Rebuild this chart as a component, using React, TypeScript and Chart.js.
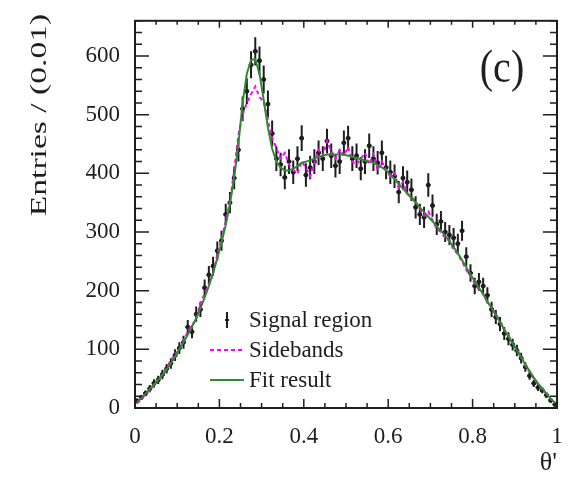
import React, { useEffect, useRef } from "react";
import { Chart, registerables } from "chart.js";
Chart.register(...registerables);

const BIN_WIDTH = 0.01;
const N_BINS = 100;
const THETA = Array.from({ length: N_BINS }, (_, i) => +((i + 0.5) * BIN_WIDTH).toFixed(3));

const SIGNAL = [
  12, 18, 25, 33, 42, 48, 57, 67, 76, 90,
  102, 112, 138, 130, 160, 168, 205, 227, 242, 268,
  285, 330, 350, 392, 440, 510, 540, 585, 608, 592,
  560, 518, 468, 425, 415, 393, 420, 402, 425, 460,
  397, 410, 420, 435, 425, 455, 430, 413, 420, 452,
  460, 425, 430, 408, 420, 447, 425, 418, 435, 410,
  402, 395, 368, 392, 385, 372, 342, 330, 325, 380,
  345, 313, 318, 300, 295, 290, 280, 302, 258, 230,
  208, 215, 208, 192, 168, 155, 143, 127, 118, 108,
  98, 85, 70, 55, 42, 35, 30, 22, 13, 6,
];

const SIGNAL_ERR = [
  4, 4, 5, 6, 7, 7, 8, 8, 9, 10,
  10, 11, 12, 11, 13, 13, 14, 15, 16, 16,
  17, 18, 18, 19, 20, 21, 22, 23, 24, 24,
  24, 23, 22, 21, 20, 20, 21, 20, 21, 22,
  20, 20, 21, 21, 21, 21, 21, 20, 21, 21,
  21, 21, 21, 20, 21, 21, 21, 20, 21, 20,
  20, 20, 19, 20, 20, 19, 19, 18, 18, 20,
  19, 18, 18, 17, 17, 17, 17, 17, 16, 15,
  14, 15, 14, 14, 13, 12, 12, 11, 11, 10,
  10, 9, 8, 7, 6, 6, 5, 5, 4, 3,
];

const SIDEBANDS = [
  8, 15, 24, 30, 40, 50, 56, 68, 80, 92,
  98, 115, 130, 142, 150, 178, 195, 210, 228, 262,
  288, 318, 352, 405, 465, 500, 520, 535, 548, 530,
  522, 490, 460, 443, 425, 435, 415, 405, 400, 420,
  410, 395, 418, 440, 430, 455, 438, 425, 440, 430,
  445, 420, 415, 425, 435, 415, 432, 405, 420, 405,
  395, 400, 375, 385, 365, 360, 352, 340, 328, 335,
  320, 305, 300, 290, 285, 270, 262, 250, 235, 225,
  212, 202, 195, 180, 172, 160, 148, 132, 125, 108,
  100, 88, 72, 62, 50, 40, 33, 25, 15, 8,
];

const FIT = [
  10, 17, 24, 32, 40, 48, 57, 66, 76, 88,
  100, 112, 125, 138, 153, 170, 188, 208, 230, 255,
  282, 312, 348, 392, 450, 520, 570, 593, 595, 570,
  525, 478, 442, 420, 410, 405, 405, 408, 412, 418,
  420, 422, 425, 428, 430, 432, 432, 432, 432, 432,
  430, 428, 426, 424, 422, 420, 418, 414, 410, 405,
  398, 390, 382, 374, 366, 358, 350, 342, 334, 326,
  318, 310, 302, 294, 284, 274, 264, 252, 240, 228,
  216, 205, 194, 182, 170, 158, 146, 134, 122, 110,
  98, 86, 74, 63, 52, 42, 33, 24, 16, 9,
];

const X_TICKS = [0, 0.2, 0.4, 0.6, 0.8, 1];
const Y_TICKS = [0, 100, 200, 300, 400, 500, 600];
const X_MINOR_STEP = 0.05;
const Y_MINOR_STEP = 20;
const Y_MAX = 660;

const LEGEND = ["Signal region", "Sidebands", "Fit result"];
const Y_TITLE = "Entries / (0.01)";
const X_TITLE = "θ'";
const PANEL = "(c)";

const SERIF = '"Liberation Serif", "Times New Roman", Times, serif';
const INK = "#1e1e1e";
const MAGENTA = "#ff00ff";
const GREEN = "#2e8b2e";

const rootStyle = {
  id: "rootStyle",
  afterDatasetDraw(chart: any, args: any) {
    if (args.index !== 2) return;
    const { ctx, chartArea } = chart;
    const xs = chart.scales.x;
    const ys = chart.scales.y;
    ctx.save();
    ctx.beginPath();
    ctx.rect(chartArea.left, chartArea.top, chartArea.right - chartArea.left, chartArea.bottom - chartArea.top);
    ctx.clip();
    ctx.strokeStyle = INK;
    ctx.lineWidth = 2;
    ctx.beginPath();
    SIGNAL.forEach((v, i) => {
      const x = xs.getPixelForValue(THETA[i]);
      const y = ys.getPixelForValue(v);
      ctx.moveTo(x, ys.getPixelForValue(v - SIGNAL_ERR[i]));
      ctx.lineTo(x, ys.getPixelForValue(v + SIGNAL_ERR[i]));
      ctx.moveTo(xs.getPixelForValue(THETA[i] - BIN_WIDTH / 2), y);
      ctx.lineTo(xs.getPixelForValue(THETA[i] + BIN_WIDTH / 2), y);
    });
    ctx.stroke();
    ctx.restore();
  },
  afterDraw(chart: any) {
    const { ctx, chartArea } = chart;
    const xs = chart.scales.x;
    const ys = chart.scales.y;
    const { left, right, top, bottom } = chartArea;
    ctx.save();
    ctx.strokeStyle = INK;
    ctx.lineWidth = 1.5;
    ctx.beginPath();
    const nx = Math.round(1 / X_MINOR_STEP);
    for (let k = 0; k <= nx; k++) {
      const x = xs.getPixelForValue(k * X_MINOR_STEP);
      const major = k % 4 === 0;
      ctx.moveTo(x, bottom);
      ctx.lineTo(x, bottom - (major ? 9 : 5));
      ctx.moveTo(x, top);
      ctx.lineTo(x, top + (major ? 7 : 4));
    }
    const ny = Math.floor(Y_MAX / Y_MINOR_STEP);
    for (let k = 0; k <= ny; k++) {
      const y = ys.getPixelForValue(k * Y_MINOR_STEP);
      const major = k % 5 === 0;
      ctx.moveTo(left, y);
      ctx.lineTo(left + (major ? 14 : 7), y);
      ctx.moveTo(right, y);
      ctx.lineTo(right - (major ? 14 : 7), y);
    }
    ctx.stroke();
    ctx.lineWidth = 2;
    ctx.strokeRect(left, top, right - left, bottom - top);

    ctx.fillStyle = INK;
    ctx.font = `23px ${SERIF}`;
    ctx.textBaseline = "middle";
    ctx.textAlign = "left";
    const lx0 = 210, lx1 = 244, tx = 249;
    const rows = [320, 350, 380];
    ctx.lineWidth = 2;
    ctx.strokeStyle = INK;
    ctx.beginPath();
    ctx.moveTo(227, rows[0] - 8);
    ctx.lineTo(227, rows[0] + 8);
    ctx.moveTo(225, rows[0]);
    ctx.lineTo(229, rows[0]);
    ctx.stroke();
    ctx.strokeStyle = MAGENTA;
    ctx.setLineDash([4, 3]);
    ctx.beginPath();
    ctx.moveTo(lx0, rows[1]);
    ctx.lineTo(lx1, rows[1]);
    ctx.stroke();
    ctx.setLineDash([]);
    ctx.strokeStyle = GREEN;
    ctx.beginPath();
    ctx.moveTo(lx0, rows[2]);
    ctx.lineTo(lx1, rows[2]);
    ctx.stroke();
    LEGEND.forEach((t, i) => ctx.fillText(t, tx, rows[i] + 1));

    ctx.save();
    ctx.translate(502, 70);
    ctx.scale(1, 1.15);
    ctx.font = `40px ${SERIF}`;
    ctx.textAlign = "center";
    ctx.fillText(PANEL, 0, 0);
    ctx.restore();

    ctx.save();
    ctx.translate(40, 115);
    ctx.rotate(-Math.PI / 2);
    ctx.scale(1.4, 1);
    ctx.font = `24px ${SERIF}`;
    ctx.textAlign = "center";
    ctx.fillText(Y_TITLE, 0, 0);
    ctx.restore();

    ctx.font = `26px ${SERIF}`;
    ctx.textAlign = "right";
    ctx.fillText(X_TITLE, right, 463);
    ctx.restore();
  },
};

export default function App() {
  const ref = useRef<HTMLCanvasElement>(null);
  useEffect(() => {
    if (!ref.current) return;
    const pts = (arr: number[]) => arr.map((v, i) => ({ x: THETA[i], y: v }));
    const chart = new Chart(ref.current, {
      type: "line",
      data: {
        datasets: [
          {
            label: LEGEND[2],
            data: pts(FIT),
            borderColor: GREEN,
            borderWidth: 2,
            pointRadius: 0,
            fill: false,
            tension: 0,
          },
          {
            label: LEGEND[1],
            data: pts(SIDEBANDS),
            borderColor: MAGENTA,
            borderWidth: 2,
            borderDash: [4, 3],
            pointRadius: 0,
            fill: false,
            tension: 0,
          },
          {
            label: LEGEND[0],
            data: pts(SIGNAL),
            showLine: false,
            pointRadius: 2,
            pointBackgroundColor: INK,
            pointBorderColor: INK,
            borderColor: INK,
          },
        ],
      },
      options: {
        responsive: false,
        animation: false,
        events: [],
        layout: { padding: { left: 0, right: 18, top: 12, bottom: 0 } },
        plugins: { legend: { display: false }, tooltip: { enabled: false } },
        scales: {
          x: {
            type: "linear",
            min: 0,
            max: 1,
            grid: { display: false },
            border: { display: false },
            afterBuildTicks: (s: any) => {
              s.ticks = X_TICKS.map((v) => ({ value: v }));
            },
            afterFit: (s: any) => {
              s.height = 77;
            },
            ticks: {
              padding: 7,
              maxRotation: 0,
              autoSkip: false,
              color: INK,
              font: { family: SERIF, size: 23 },
              callback: (v: any) => String(v),
            },
          },
          y: {
            type: "linear",
            min: 0,
            max: Y_MAX,
            grid: { display: false },
            border: { display: false },
            afterBuildTicks: (s: any) => {
              s.ticks = Y_TICKS.map((v) => ({ value: v }));
            },
            afterFit: (s: any) => {
              s.width = 135;
            },
            ticks: {
              padding: 7,
              autoSkip: false,
              color: INK,
              font: { family: SERIF, size: 23 },
              callback: (v: any) => String(v),
            },
          },
        },
      },
      plugins: [rootStyle],
    });
    return () => chart.destroy();
  }, []);
  return (
    <div style={{ position: "absolute", left: 0, top: 0, width: 575, height: 485, background: "#fff" }}>
      <canvas ref={ref} width={575} height={485} />
    </div>
  );
}
